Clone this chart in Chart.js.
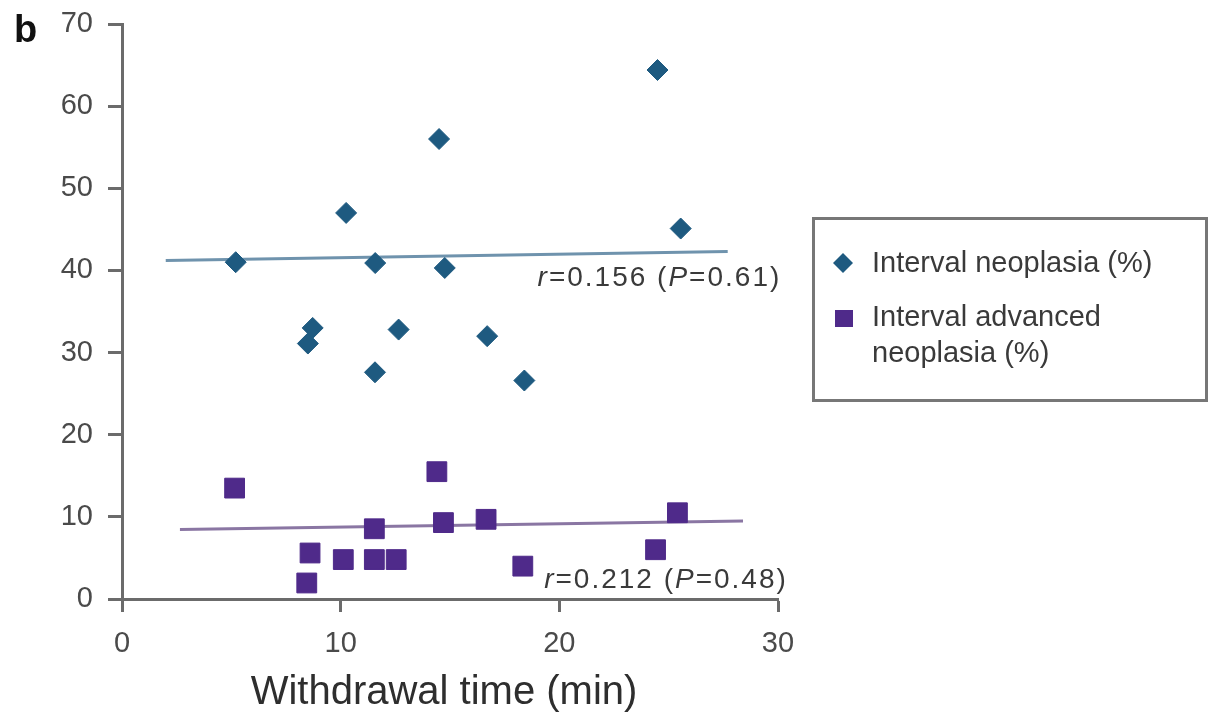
<!DOCTYPE html>
<html>
<head>
<meta charset="utf-8">
<script src="https://cdn.jsdelivr.net/npm/chart.js@4"></script>
<style>
html,body{margin:0;padding:0;background:#fff;}
#wrap{width:1209px;height:718px;position:relative;}
</style>
</head>
<body>
<div id="wrap"><canvas id="c" width="1209" height="718"></canvas></div>
<script>
// ---- data ----
const neoX = [5.2, 10.25, 11.58, 14.5, 14.76, 24.49, 25.55, 8.72, 8.5, 12.65, 11.57, 16.7, 18.4];
const neoY = [41.0, 47.0, 40.9, 56.0, 40.3, 64.4, 45.1, 33.0, 31.1, 32.8, 27.6, 32.0, 26.6];
const advX = [5.15, 14.4, 11.54, 14.7, 16.65, 25.4, 8.6, 8.45, 10.12, 11.54, 12.54, 18.33, 24.4];
const advY = [13.5, 15.5, 8.55, 9.3, 9.7, 10.5, 5.6, 1.95, 4.8, 4.8, 4.8, 4.0, 6.0];
const neoFitX = [2.0, 27.7];
const neoFitY = [41.2, 42.3];
const advFitX = [2.65, 28.4];
const advFitY = [8.45, 9.5];
const xTicks = [0, 10, 20, 30];
const yTicks = [0, 10, 20, 30, 40, 50, 60, 70];
const seriesNames = ['Interval neoplasia (%)', ['Interval advanced', 'neoplasia (%)']];
const neoStat = [['r', true], ['=0.156 (', false], ['P', true], ['=0.61)', false]];
const advStat = [['r', true], ['=0.212 (', false], ['P', true], ['=0.48)', false]];
const neoStatPos = [30.15, 39.0];
const advStatPos = [30.45, 2.3];
const panelLabel = 'b';
const xTitle = 'Withdrawal time (min)';

const toPts = (xs, ys) => xs.map((x, i) => ({x: x, y: ys[i]}));

const FONT = "'Liberation Sans', Arial, sans-serif";
const BLUE = '#1e5a80';
const PURPLE = '#4f2a8a';
const AXIS = '#6b6b6b';
const TXT = '#4a4a4a';

function drawSegments(ctx, segs, xRight, yMid, size, color) {
  ctx.save();
  ctx.fillStyle = color;
  ctx.textBaseline = 'middle';
  ctx.textAlign = 'left';
  try { ctx.letterSpacing = '2px'; } catch (e) {}
  let total = 0;
  const widths = segs.map(([t, it]) => {
    ctx.font = (it ? 'italic ' : '') + size + 'px ' + FONT;
    const w = ctx.measureText(t).width;
    total += w;
    return w;
  });
  let x = xRight - total;
  segs.forEach(([t, it], i) => {
    ctx.font = (it ? 'italic ' : '') + size + 'px ' + FONT;
    ctx.fillText(t, x, yMid);
    x += widths[i];
  });
  ctx.restore();
}

const extras = {
  id: 'extras',
  afterDraw(chart) {
    const ctx = chart.ctx;
    const xs = chart.scales.x, ys = chart.scales.y;
    // panel label
    ctx.save();
    ctx.fillStyle = '#111';
    ctx.font = 'bold 38px ' + FONT;
    ctx.textBaseline = 'alphabetic';
    ctx.textAlign = 'left';
    ctx.fillText(panelLabel, 14, 42);
    // x axis title
    ctx.fillStyle = '#2e2e2e';
    ctx.font = '40px ' + FONT;
    ctx.textAlign = 'center';
    ctx.textBaseline = 'middle';
    ctx.fillText(xTitle, 444, 693);
    ctx.restore();
    // stats annotations
    drawSegments(ctx, neoStat, xs.getPixelForValue(neoStatPos[0]), ys.getPixelForValue(neoStatPos[1]), 28, '#3a3a3a');
    drawSegments(ctx, advStat, xs.getPixelForValue(advStatPos[0]), ys.getPixelForValue(advStatPos[1]), 28, '#3a3a3a');
    // legend box
    ctx.save();
    ctx.strokeStyle = '#777';
    ctx.lineWidth = 3;
    ctx.strokeRect(813.5, 218.5, 393, 182);
    ctx.fillStyle = BLUE;
    ctx.beginPath();
    ctx.moveTo(843, 253); ctx.lineTo(853, 263); ctx.lineTo(843, 273); ctx.lineTo(833, 263); ctx.closePath();
    ctx.fill();
    ctx.fillStyle = PURPLE;
    ctx.fillRect(835, 310, 18, 17);
    ctx.fillStyle = '#3a3a3a';
    ctx.font = '29px ' + FONT;
    ctx.textBaseline = 'middle';
    ctx.textAlign = 'left';
    ctx.fillText(seriesNames[0], 872, 264);
    ctx.fillText(seriesNames[1][0], 872, 318);
    ctx.fillText(seriesNames[1][1], 872, 354);
    ctx.restore();
  }
};

new Chart(document.getElementById('c'), {
  type: 'scatter',
  data: {
    datasets: [
      { label: seriesNames[0], data: toPts(neoX, neoY), pointStyle: 'rectRot', pointRadius: 10.5,
        backgroundColor: BLUE, borderColor: BLUE, borderWidth: 1, order: 0 },
      { label: seriesNames[1].join(' '), data: toPts(advX, advY), pointStyle: 'rect', pointRadius: 14,
        backgroundColor: PURPLE, borderColor: PURPLE, borderWidth: 1, order: 0 },
      { type: 'line', label: 'fit1', data: toPts(neoFitX, neoFitY), borderColor: '#6f93ad',
        borderWidth: 3, pointRadius: 0, fill: false, order: 2 },
      { type: 'line', label: 'fit2', data: toPts(advFitX, advFitY), borderColor: '#8a76a3',
        borderWidth: 3, pointRadius: 0, fill: false, order: 2 }
    ]
  },
  options: {
    responsive: false,
    animation: false,
    layout: { padding: { left: 0, right: 431, top: 24, bottom: 0 } },
    plugins: { legend: { display: false }, tooltip: { enabled: false } },
    scales: {
      x: {
        type: 'linear', min: 0, max: 30,
        afterBuildTicks: s => { s.ticks = xTicks.map(v => ({value: v})); },
        afterFit: s => { s.height = 119; s.paddingLeft = 0; s.paddingRight = 0; },
        grid: { drawOnChartArea: false, drawTicks: true, tickLength: 13, tickColor: AXIS, tickWidth: 3 },
        border: { display: true, color: AXIS, width: 3 },
        ticks: { color: TXT, font: { family: FONT, size: 29 }, padding: 15 }
      },
      y: {
        type: 'linear', min: 0, max: 70,
        afterBuildTicks: s => { s.ticks = yTicks.map(v => ({value: v})); },
        afterFit: s => { s.width = 122; s.paddingTop = 0; s.paddingBottom = 0; },
        grid: { drawOnChartArea: false, drawTicks: true, tickLength: 14, tickColor: AXIS, tickWidth: 3 },
        border: { display: true, color: AXIS, width: 3 },
        ticks: { color: TXT, font: { family: FONT, size: 29 }, padding: 15 }
      }
    }
  },
  plugins: [extras]
});
</script>
</body>
</html>
